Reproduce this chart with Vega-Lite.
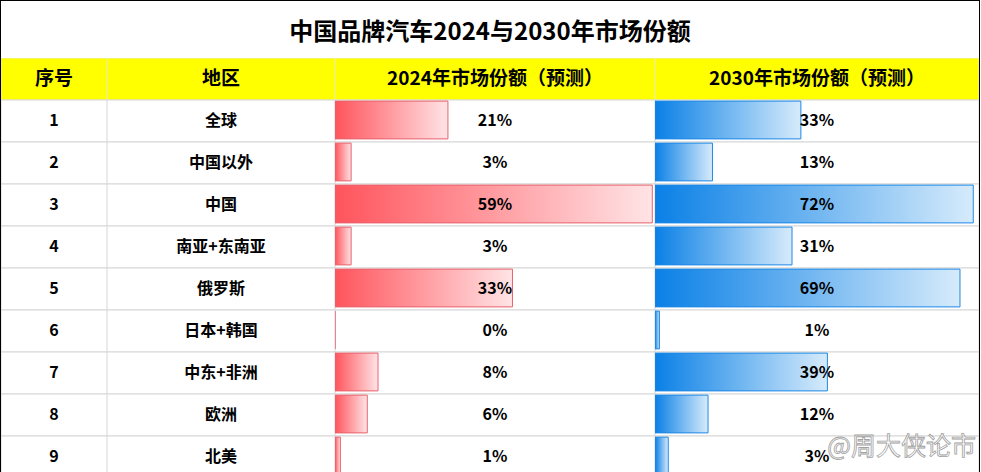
{
  "$schema": "https://vega.github.io/schema/vega-lite/v6.json",
  "padding": {"top": 1, "left": 1, "right": 1, "bottom": 0},
  "background": "#000000",
  "bounds": "flush",
  "config": {
    "view": {"stroke": null, "fill": "#FFFFFF"},
    "text": {"font": "Noto Sans CJK SC"},
    "concat": {"spacing": 0}
  },
  "datasets": {
    "rows": [
      {"no": 1, "region": "全球", "a": 0.21, "b": 0.33},
      {"no": 2, "region": "中国以外", "a": 0.03, "b": 0.13},
      {"no": 3, "region": "中国", "a": 0.59, "b": 0.72},
      {"no": 4, "region": "南亚+东南亚", "a": 0.03, "b": 0.31},
      {"no": 5, "region": "俄罗斯", "a": 0.33, "b": 0.69},
      {"no": 6, "region": "日本+韩国", "a": 0.0, "b": 0.01},
      {"no": 7, "region": "中东+非洲", "a": 0.08, "b": 0.39},
      {"no": 8, "region": "欧洲", "a": 0.06, "b": 0.12},
      {"no": 9, "region": "北美", "a": 0.01, "b": 0.03}
    ],
    "header": [
      {"no": 0, "c1": "序号", "c2": "地区", "c3": "2024年市场份额（预测）", "c4": "2030年市场份额（预测）"}
    ],
    "title": [
      {"t": "中国品牌汽车2024与2030年市场份额"}
    ]
  },
  "spacing": 0,
  "vconcat": [
    {
      "width": 978, "height": 57,
      "layer": [
        {"data": {"name": "title"}, "mark": {"type": "rect", "fill": "#FFFFFF", "stroke": null},
         "encoding": {"x": {"value": 0}, "x2": {"value": "width"}, "y": {"value": 0}, "y2": {"value": "height"}}},
        {"data": {"name": "title"}, "mark": {"type": "text", "fontSize": 24, "fontWeight": "bold", "color": "#000000", "dy": 3},
         "encoding": {"text": {"field": "t"}}}
      ]
    },
    {
      "spacing": 0,
      "bounds": "flush",
      "hconcat": [
        {
          "width": 106, "height": 414,
          "layer": [
            {"data": {"name": "header"}, "mark": {"type": "rect", "fill": "#FFFF00", "stroke": "#EAEAB8", "clip": true},
             "encoding": {"y": {"field": "no", "type": "ordinal", "scale": {"type": "band", "domain": [0,1,2,3,4,5,6,7,8,9], "range": [0, 420], "paddingInner": 0, "paddingOuter": 0}, "axis": null}, "x": {"value": 0}, "x2": {"value": "width"}}},
            {"data": {"name": "header"}, "mark": {"type": "text", "fontSize": 19, "fontWeight": "bold", "color": "#000000"},
             "encoding": {"y": {"field": "no", "type": "ordinal"}, "text": {"field": "c1"}}},
            {"data": {"name": "rows"}, "mark": {"type": "rect", "fill": "#FFFFFF", "stroke": "#D6D6D6", "clip": true},
             "encoding": {"y": {"field": "no", "type": "ordinal"}, "x": {"value": 0}, "x2": {"value": "width"}}},
            {"data": {"name": "rows"}, "mark": {"type": "text", "fontSize": 16, "fontWeight": "bold", "color": "#000000", "clip": true},
             "encoding": {"y": {"field": "no", "type": "ordinal"}, "text": {"field": "no"}}}
          ]
        },
        {
          "width": 228, "height": 414,
          "layer": [
            {"data": {"name": "header"}, "mark": {"type": "rect", "fill": "#FFFF00", "stroke": "#EAEAB8", "clip": true},
             "encoding": {"y": {"field": "no", "type": "ordinal", "scale": {"type": "band", "domain": [0,1,2,3,4,5,6,7,8,9], "range": [0, 420], "paddingInner": 0, "paddingOuter": 0}, "axis": null}, "x": {"value": 0}, "x2": {"value": "width"}}},
            {"data": {"name": "header"}, "mark": {"type": "text", "fontSize": 19, "fontWeight": "bold", "color": "#000000"},
             "encoding": {"y": {"field": "no", "type": "ordinal"}, "text": {"field": "c2"}}},
            {"data": {"name": "rows"}, "mark": {"type": "rect", "fill": "#FFFFFF", "stroke": "#D6D6D6", "clip": true},
             "encoding": {"y": {"field": "no", "type": "ordinal"}, "x": {"value": 0}, "x2": {"value": "width"}}},
            {"data": {"name": "rows"}, "mark": {"type": "text", "fontSize": 16, "fontWeight": "bold", "color": "#000000", "clip": true},
             "encoding": {"y": {"field": "no", "type": "ordinal"}, "text": {"field": "region"}}}
          ]
        },
        {
          "width": 320, "height": 414,
          "layer": [
            {"data": {"name": "header"}, "mark": {"type": "rect", "fill": "#FFFF00", "stroke": "#EAEAB8", "clip": true},
             "encoding": {"y": {"field": "no", "type": "ordinal", "scale": {"type": "band", "domain": [0,1,2,3,4,5,6,7,8,9], "range": [0, 420], "paddingInner": 0, "paddingOuter": 0}, "axis": null}, "x": {"value": 0}, "x2": {"value": "width"}}},
            {"data": {"name": "header"}, "mark": {"type": "text", "fontSize": 19, "fontWeight": "bold", "color": "#000000"},
             "encoding": {"y": {"field": "no", "type": "ordinal"}, "text": {"field": "c3"}}},
            {"data": {"name": "rows"}, "mark": {"type": "rect", "fill": "#FFFFFF", "stroke": "#D6D6D6", "clip": true},
             "encoding": {"y": {"field": "no", "type": "ordinal"}, "x": {"value": 0}, "x2": {"value": "width"}}},
            {"data": {"name": "rows"}, "mark": {"type": "bar", "height": {"band": 0.9}, "clip": true, "stroke": "#E8626C", "strokeWidth": 1, "yOffset": -1,
               "fill": {"gradient": "linear", "x1": 0, "y1": 0, "x2": 1, "y2": 0, "stops": [{"offset": 0, "color": "#FF545C"}, {"offset": 1, "color": "#FFE4E6"}]}},
             "encoding": {"y": {"field": "no", "type": "ordinal"}, "x": {"field": "a", "type": "quantitative", "scale": {"domain": [0, 0.595], "nice": false, "zero": true}, "axis": null}}},
            {"data": {"name": "rows"}, "mark": {"type": "text", "fontSize": 16, "fontWeight": "bold", "color": "#000000", "clip": true},
             "encoding": {"y": {"field": "no", "type": "ordinal"}, "text": {"field": "a", "type": "quantitative", "format": ".0%"}}}
          ]
        },
        {
          "width": 324, "height": 414,
          "layer": [
            {"data": {"name": "header"}, "mark": {"type": "rect", "fill": "#FFFF00", "stroke": "#EAEAB8", "clip": true},
             "encoding": {"y": {"field": "no", "type": "ordinal", "scale": {"type": "band", "domain": [0,1,2,3,4,5,6,7,8,9], "range": [0, 420], "paddingInner": 0, "paddingOuter": 0}, "axis": null}, "x": {"value": 0}, "x2": {"value": "width"}}},
            {"data": {"name": "header"}, "mark": {"type": "text", "fontSize": 19, "fontWeight": "bold", "color": "#000000"},
             "encoding": {"y": {"field": "no", "type": "ordinal"}, "text": {"field": "c4"}}},
            {"data": {"name": "rows"}, "mark": {"type": "rect", "fill": "#FFFFFF", "stroke": "#D6D6D6", "clip": true},
             "encoding": {"y": {"field": "no", "type": "ordinal"}, "x": {"value": 0}, "x2": {"value": "width"}}},
            {"data": {"name": "rows"}, "mark": {"type": "bar", "height": {"band": 0.9}, "clip": true, "stroke": "#1E88E5", "strokeWidth": 1, "yOffset": -1,
               "fill": {"gradient": "linear", "x1": 0, "y1": 0, "x2": 1, "y2": 0, "stops": [{"offset": 0, "color": "#0A80E6"}, {"offset": 1, "color": "#D6EBFB"}]}},
             "encoding": {"y": {"field": "no", "type": "ordinal"}, "x": {"field": "b", "type": "quantitative", "scale": {"domain": [0, 0.733], "nice": false, "zero": true}, "axis": null}}},
            {"data": {"name": "rows"}, "mark": {"type": "text", "fontSize": 16, "fontWeight": "bold", "color": "#000000", "clip": true},
             "encoding": {"y": {"field": "no", "type": "ordinal"}, "text": {"field": "b", "type": "quantitative", "format": ".0%"}}},
            {"data": {"values": [{"no": 9, "t": "@周大侠论市"}]}, "mark": {"type": "text", "fontSize": 25, "fill": "#FFFFFF", "fillOpacity": 0.6, "stroke": "#A0A0A0", "strokeWidth": 0.8, "align": "right", "dy": -10, "clip": true},
             "encoding": {"y": {"field": "no", "type": "ordinal"}, "x": {"datum": 0.726, "type": "quantitative"}, "text": {"field": "t"}}}
          ]
        }
      ]
    }
  ]
}
